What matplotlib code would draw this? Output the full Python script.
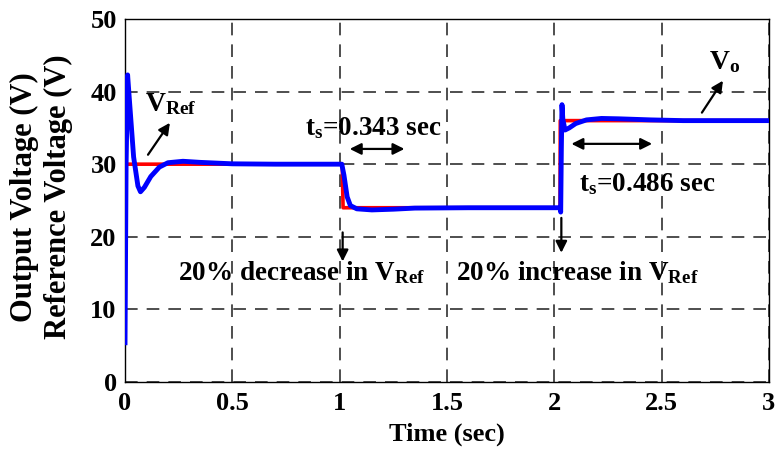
import numpy as np
import matplotlib.pyplot as plt

plt.rcParams['font.family'] = 'Liberation Serif'
plt.rcParams['font.weight'] = 'bold'
plt.rcParams['mathtext.fontset'] = 'custom'
plt.rcParams['mathtext.rm'] = 'Liberation Serif:bold'
plt.rcParams['mathtext.it'] = 'Liberation Serif:bold'
plt.rcParams['mathtext.bf'] = 'Liberation Serif:bold'

# reference voltage steps (s, V)
t_ref = [0.0, 1.012, 1.016, 2.027, 2.028, 3.0]
v_ref = [30.0, 30.0, 24.0, 24.0, 36.0, 36.0]

# measured output voltage (s, V)
t_out = [0.0, 0.005, 0.012, 0.02, 0.04, 0.06, 0.072, 0.09, 0.12, 0.16, 0.2,
         0.27, 0.35, 0.5, 0.7, 1.01, 1.02, 1.035, 1.05, 1.08, 1.15, 1.25,
         1.35, 1.6, 2.027, 2.03, 2.033, 2.036, 2.04, 2.05, 2.07, 2.1, 2.15,
         2.22, 2.3, 2.45, 2.6, 3.0]
v_out = [5.4, 30.0, 42.3, 39.0, 31.0, 27.0, 26.2, 26.8, 28.3, 29.6, 30.2,
         30.4, 30.25, 30.05, 30.0, 30.0, 28.5, 25.5, 24.3, 23.85, 23.7, 23.8,
         23.95, 24.0, 24.0, 23.4, 32.0, 38.2, 36.2, 34.7, 35.0, 35.6, 36.1,
         36.3, 36.25, 36.1, 36.0, 36.0]

x_ticks = [0, 0.5, 1, 1.5, 2, 2.5, 3]
x_tick_labels = ['0', '0.5', '1', '1.5', '2', '2.5', '3']
y_ticks = [0, 10, 20, 30, 40, 50]

fig = plt.figure(figsize=(7.79, 4.63), dpi=100)
ax = fig.add_axes([0.1605, 0.175, 0.8265, 0.784])

ax.plot(t_ref, v_ref, color='#ff0000', lw=2.6, zorder=3)
ax.plot(t_out, v_out, color='#0000ff', lw=3.5, zorder=4)

ax.set_xlim(0, 3)
ax.set_ylim(0, 50)
ax.set_xticks(x_ticks)
ax.set_xticklabels(x_tick_labels)
ax.set_yticks(y_ticks)
ax.tick_params(length=0, labelsize=19)
ax.tick_params(axis='x', pad=7)
ax.tick_params(axis='y', pad=6)
ax.grid(True, color='#404040', lw=1.3, dashes=(7, 5))
for s in ax.spines.values():
    s.set_linewidth(1.0)

ax.set_xlabel('Time (sec)', fontsize=19, fontweight='bold')
ax.xaxis.set_label_coords(0.5, -0.112)
fig.text(0.032, 0.575, 'Output Voltage (V)', rotation=90, fontsize=22,
         ha='center', va='center')
fig.text(0.0745, 0.575, 'Reference Voltage (V)', rotation=90, fontsize=22,
         ha='center', va='center')

arrow = dict(arrowstyle='-|>', color='k', lw=1.6, mutation_scale=17,
             shrinkA=0, shrinkB=0)
both = dict(arrowstyle='<|-|>', color='k', lw=1.6, mutation_scale=17,
            shrinkA=0, shrinkB=0)

ax.text(0.093, 38.3, r'V$_{\mathrm{Ref}}$', fontsize=20, ha='left', va='center')
ax.annotate('', xy=(0.209, 35.7), xytext=(0.107, 31.3), arrowprops=arrow)

ax.text(0.837, 35.0, r't$_{\mathrm{s}}$=0.343 sec', fontsize=19.5,
        ha='left', va='center')
ax.annotate('', xy=(1.302, 32.1), xytext=(1.047, 32.1), arrowprops=both)

ax.annotate('', xy=(1.014, 16.6), xytext=(1.014, 20.6), arrowprops=arrow)
ax.text(0.247, 15.1, r'20% decrease in V$_{\mathrm{Ref}}$', fontsize=19.5,
        ha='left', va='center')

ax.annotate('', xy=(2.033, 17.8), xytext=(2.033, 22.6), arrowprops=arrow)
ax.text(1.54, 15.1, r'20% increase in V$_{\mathrm{Ref}}$', fontsize=19.5,
        ha='left', va='center')

ax.text(2.116, 27.3, r't$_{\mathrm{s}}$=0.486 sec', fontsize=19.5,
        ha='left', va='center')
ax.annotate('', xy=(2.456, 32.8), xytext=(2.08, 32.8), arrowprops=both)

ax.text(2.72, 44.1, r'V$_{\mathrm{o}}$', fontsize=20, ha='left', va='center')
ax.annotate('', xy=(2.786, 41.5), xytext=(2.688, 37.1), arrowprops=arrow)

fig.savefig('out.png', dpi=100)
